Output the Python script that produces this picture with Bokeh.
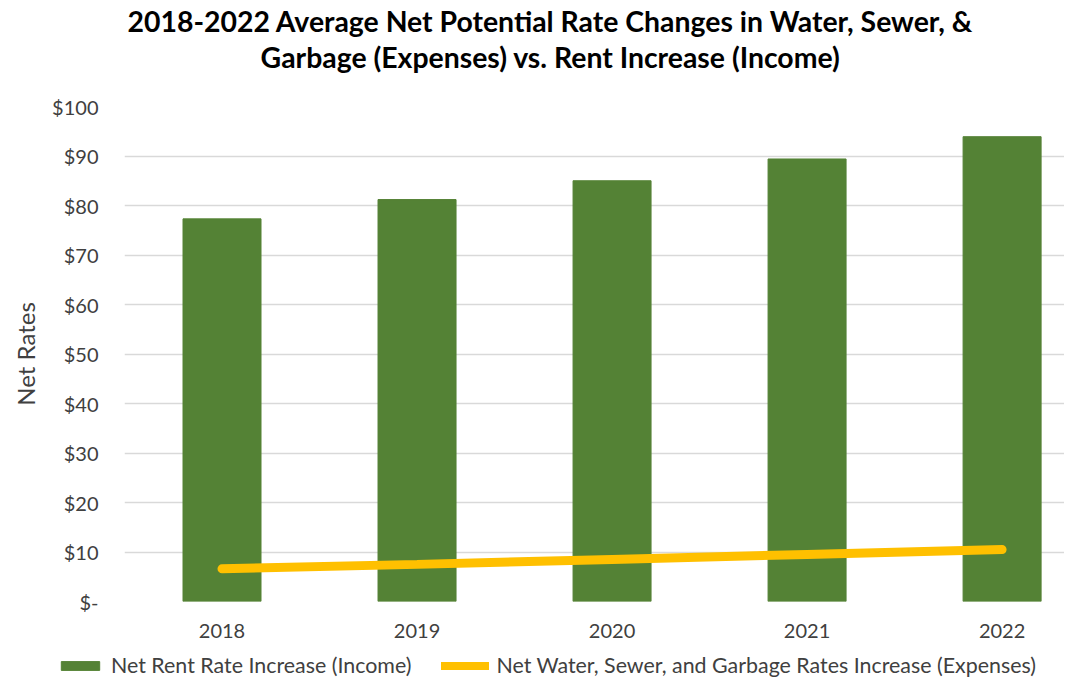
from bokeh.plotting import figure
from bokeh.layouts import column
from bokeh.models import (Range1d, FixedTicker, Legend, LegendItem, Label, ColumnDataSource)
from bokeh.embed import file_html
from bokeh.resources import INLINE

# ---- data ----
years = ["2018", "2019", "2020", "2021", "2022"]
rent_income = [77.3, 81.2, 85.0, 89.4, 93.9]
utility_expenses = [6.6, 7.5, 8.5, 9.5, 10.5]
y_ticks = [0, 10, 20, 30, 40, 50, 60, 70, 80, 90, 100]
y_tick_labels = ["$-", "$10", "$20", "$30", "$40", "$50", "$60", "$70", "$80", "$90", "$100"]
title_lines = ["2018-2022 Average Net Potential Rate Changes in Water, Sewer, &",
               "Garbage (Expenses) vs. Rent Increase (Income)"]
series_names = ["Net Rent Rate Increase (Income)",
                "Net Water, Sewer, and Garbage Rates Increase (Expenses)"]

FONT = "Lato"
GREEN = "#548235"
YELLOW = "#FFC000"
TXT = "#404040"
W = 1064

xs = list(range(len(years)))
src = ColumnDataSource(dict(x=xs, income=rent_income, expenses=utility_expenses))

# ---------- title strip ----------
pt = figure(width=W, height=80, output_backend="svg", toolbar_location=None,
            x_axis_type=None, y_axis_type=None, min_border=0,
            x_range=Range1d(0, 1), y_range=Range1d(0, 1))
pt.frame_align = False
pt.outline_line_color = None
for i, t in enumerate(title_lines):
    pt.add_layout(Label(x=550, y=60 - i * 36, x_units="screen", y_units="screen",
                        text=t, text_align="center", text_baseline="middle",
                        text_font=FONT, text_font_style="bold",
                        text_font_size="28.4px", text_color="#000000"))

# ---------- main chart ----------
p = figure(width=W, height=570, output_backend="svg", toolbar_location=None,
           x_range=Range1d(-0.5, 4.32), y_range=Range1d(0, 100),
           min_border_left=124, min_border_right=0, min_border_top=26,
           min_border_bottom=49)
p.outline_line_color = None
p.xgrid.grid_line_color = None
p.ygrid.grid_line_color = "#D9D9D9"
p.ygrid.grid_line_width = 1.3

p.vbar(x="x", top="income", source=src, width=0.4, fill_color=GREEN, line_color=GREEN)
p.line(x="x", y="expenses", source=src, line_color=YELLOW, line_width=9, line_cap="round")

p.xaxis.ticker = FixedTicker(ticks=xs)
p.xaxis.major_label_overrides = {i: y for i, y in zip(xs, years)}
p.yaxis.ticker = FixedTicker(ticks=y_ticks)
p.yaxis.major_label_overrides = {t: l for t, l in zip(y_ticks, y_tick_labels)}
for ax in (p.xaxis[0], p.yaxis[0]):
    ax.axis_line_color = None
    ax.major_tick_line_color = None
    ax.minor_tick_line_color = None
    ax.major_label_text_font = FONT
    ax.major_label_text_font_size = "20px"
    ax.major_label_text_color = TXT
p.xaxis.major_label_standoff = 16
p.yaxis.major_label_standoff = 20
p.yaxis.axis_label = "Net Rates"
p.yaxis.axis_label_text_font = FONT
p.yaxis.axis_label_text_font_size = "24px"
p.yaxis.axis_label_text_font_style = "normal"
p.yaxis.axis_label_text_color = TXT
p.yaxis.axis_label_standoff = 9

# ---------- legend strip (same series, drawn out of view; only the legend shows) ----------
pl = figure(width=W, height=28, output_backend="svg", toolbar_location=None,
            x_axis_type=None, y_axis_type=None, min_border=0,
            x_range=Range1d(-0.5, 4.32), y_range=Range1d(1000, 1001))
pl.frame_align = False
pl.outline_line_color = None
lb = pl.vbar(x="x", top="income", source=src, width=0.4, fill_color=GREEN, line_color=GREEN)
ll = pl.line(x="x", y="expenses", source=src, line_color=YELLOW, line_width=8, line_cap="round")
legend = Legend(items=[LegendItem(label=series_names[0], renderers=[lb]),
                       LegendItem(label=series_names[1], renderers=[ll])],
                location=(56, 0), orientation="horizontal",
                glyph_width=48, glyph_height=11, label_standoff=7, spacing=30,
                padding=0, margin=0, border_line_color=None, background_fill_alpha=0,
                label_text_font=FONT, label_text_font_size="21.4px", label_text_color=TXT)
pl.add_layout(legend, "center")

layout = column(pt, p, pl, spacing=0)
open("out.html", "w").write(file_html(layout, INLINE))
